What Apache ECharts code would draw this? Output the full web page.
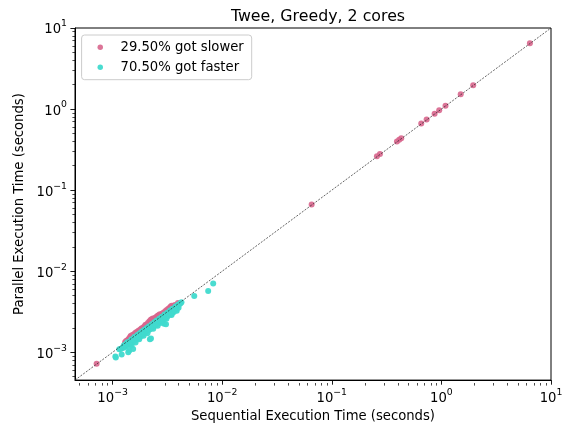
<!DOCTYPE html>
<html>
<head>
<meta charset="utf-8">
<script src="https://cdn.jsdelivr.net/npm/echarts@6/dist/echarts.min.js"></script>
<style>
  html, body { margin: 0; padding: 0; background: #ffffff; }
  #chart { width: 569px; height: 428px; }
</style>
</head>
<body>
<div id="chart"></div>
<script>
// Labels
const titleText = 'Twee, Greedy, 2 cores';
const xName = 'Sequential Execution Time (seconds)';
const yName = 'Parallel Execution Time (seconds)';
const slowerLabel = '29.50% got slower';
const fasterLabel = '70.50% got faster';

// Axis range (same on both axes) and tick positions
const axisMin = 4.54e-4;
const axisMax = 10;
const majorTicks = [0.001, 0.01, 0.1, 1, 10];
const minorDecades = [0.0001, 0.001, 0.01, 0.1, 1];
const minorSteps = [2, 3, 4, 5, 6, 7, 8, 9];

// Benchmarks that ran slower in parallel: [sequential s, parallel s]
const slower = [
  [6.42, 6.50], [1.95, 1.97], [1.50, 1.52], [1.09, 1.10], [0.955, 0.965],
  [0.867, 0.876], [0.733, 0.742], [0.655, 0.662], [0.430, 0.436], [0.412, 0.417],
  [0.393, 0.398], [0.275, 0.279], [0.258, 0.261], [0.0655, 0.0664], [7.15e-4, 7.2e-4],
  [1.30e-3, 1.33e-3], [1.33e-3, 1.38e-3], [1.36e-3, 1.40e-3], [1.39e-3, 1.44e-3],
  [1.42e-3, 1.49e-3], [1.45e-3, 1.55e-3], [1.48e-3, 1.56e-3], [1.52e-3, 1.63e-3],
  [1.55e-3, 1.64e-3], [1.59e-3, 1.70e-3], [1.63e-3, 1.76e-3], [1.67e-3, 1.78e-3],
  [1.72e-3, 1.84e-3], [1.78e-3, 1.90e-3], [1.83e-3, 1.96e-3], [1.88e-3, 1.99e-3],
  [1.93e-3, 2.05e-3], [1.98e-3, 2.12e-3], [2.04e-3, 2.16e-3], [2.10e-3, 2.30e-3],
  [2.16e-3, 2.40e-3], [2.22e-3, 2.50e-3], [2.27e-3, 2.56e-3], [2.33e-3, 2.62e-3],
  [2.38e-3, 2.60e-3], [2.45e-3, 2.66e-3], [2.52e-3, 2.74e-3], [2.58e-3, 2.82e-3],
  [2.63e-3, 2.86e-3], [2.70e-3, 2.94e-3], [2.76e-3, 2.90e-3], [2.84e-3, 3.00e-3],
  [2.92e-3, 3.08e-3], [3.02e-3, 3.20e-3], [3.12e-3, 3.32e-3], [3.22e-3, 3.45e-3],
  [3.33e-3, 3.56e-3], [3.40e-3, 3.68e-3], [3.46e-3, 3.74e-3], [3.55e-3, 3.70e-3],
  [3.70e-3, 3.82e-3], [3.95e-3, 4.05e-3], [1.47e-3, 1.60e-3], [2.00e-3, 2.18e-3]
];

// Benchmarks that ran faster in parallel: [sequential s, parallel s]
const faster = [
  [1.06e-3, 0.89e-3], [1.07e-3, 0.86e-3], [1.21e-3, 0.94e-3], [1.39e-3, 1.00e-3],
  [1.42e-3, 1.05e-3], [1.54e-3, 1.10e-3], [1.49e-3, 1.21e-3], [1.44e-3, 1.24e-3],
  [2.19e-3, 1.45e-3], [2.24e-3, 1.48e-3], [2.95e-3, 2.25e-3], [3.07e-3, 2.22e-3],
  [5.56e-3, 4.94e-3], [7.45e-3, 5.69e-3], [8.28e-3, 7.05e-3],
  [1.25e-3, 1.17e-3], [1.28e-3, 1.15e-3], [1.30e-3, 1.22e-3], [1.33e-3, 1.20e-3],
  [1.35e-3, 1.27e-3], [1.38e-3, 1.25e-3], [1.40e-3, 1.32e-3], [1.42e-3, 1.28e-3],
  [1.45e-3, 1.36e-3], [1.47e-3, 1.30e-3], [1.50e-3, 1.40e-3], [1.52e-3, 1.35e-3],
  [1.55e-3, 1.44e-3], [1.57e-3, 1.38e-3], [1.60e-3, 1.50e-3], [1.62e-3, 1.42e-3],
  [1.65e-3, 1.55e-3], [1.67e-3, 1.47e-3], [1.70e-3, 1.58e-3], [1.72e-3, 1.50e-3],
  [1.75e-3, 1.62e-3], [1.78e-3, 1.55e-3], [1.80e-3, 1.70e-3], [1.83e-3, 1.60e-3],
  [1.86e-3, 1.75e-3], [1.88e-3, 1.66e-3], [1.90e-3, 1.80e-3], [1.93e-3, 1.70e-3],
  [1.96e-3, 1.85e-3], [1.98e-3, 1.74e-3], [2.00e-3, 1.90e-3], [2.03e-3, 1.80e-3],
  [2.06e-3, 1.95e-3], [2.10e-3, 1.85e-3], [2.13e-3, 2.00e-3], [2.16e-3, 1.90e-3],
  [2.20e-3, 2.05e-3], [2.23e-3, 1.95e-3], [2.26e-3, 2.12e-3], [2.30e-3, 2.02e-3],
  [2.34e-3, 2.20e-3], [2.38e-3, 2.08e-3], [2.42e-3, 2.28e-3], [2.46e-3, 2.15e-3],
  [2.50e-3, 2.35e-3], [2.55e-3, 2.22e-3], [2.60e-3, 2.45e-3], [2.65e-3, 2.30e-3],
  [2.70e-3, 2.55e-3], [2.75e-3, 2.40e-3], [2.80e-3, 2.65e-3], [2.85e-3, 2.50e-3],
  [2.90e-3, 2.72e-3], [2.95e-3, 2.58e-3], [3.00e-3, 2.82e-3], [3.06e-3, 2.68e-3],
  [3.12e-3, 2.95e-3], [3.18e-3, 2.78e-3], [3.25e-3, 3.05e-3], [3.32e-3, 2.90e-3],
  [3.40e-3, 3.20e-3], [3.48e-3, 3.00e-3], [3.55e-3, 3.35e-3], [3.62e-3, 3.15e-3],
  [3.70e-3, 3.50e-3], [3.80e-3, 3.35e-3], [3.90e-3, 3.70e-3], [4.00e-3, 3.55e-3],
  [4.10e-3, 3.95e-3], [4.18e-3, 4.05e-3], [4.25e-3, 4.15e-3],
  [1.36e-3, 1.33e-3], [1.48e-3, 1.44e-3], [1.58e-3, 1.54e-3], [1.68e-3, 1.64e-3],
  [1.77e-3, 1.72e-3], [1.85e-3, 1.81e-3], [1.95e-3, 1.90e-3], [2.05e-3, 2.00e-3],
  [2.15e-3, 2.10e-3], [2.28e-3, 2.22e-3], [2.40e-3, 2.34e-3], [2.52e-3, 2.46e-3],
  [2.68e-3, 2.62e-3], [2.82e-3, 2.75e-3], [2.98e-3, 2.92e-3], [3.15e-3, 3.08e-3],
  [3.35e-3, 3.28e-3], [3.52e-3, 3.45e-3], [3.75e-3, 3.66e-3], [3.95e-3, 3.86e-3],
  [1.62e-3, 1.32e-3], [1.75e-3, 1.45e-3], [1.92e-3, 1.60e-3], [2.08e-3, 1.72e-3],
  [2.35e-3, 1.95e-3], [2.58e-3, 2.12e-3], [2.78e-3, 2.32e-3], [3.10e-3, 2.60e-3],
  [3.45e-3, 2.88e-3], [3.85e-3, 3.25e-3],
  [1.32e-3, 1.26e-3], [1.43e-3, 1.34e-3], [1.53e-3, 1.45e-3], [1.63e-3, 1.52e-3],
  [1.73e-3, 1.60e-3], [1.84e-3, 1.70e-3], [1.94e-3, 1.78e-3], [2.02e-3, 1.86e-3],
  [2.11e-3, 1.96e-3], [2.21e-3, 2.00e-3], [2.31e-3, 2.14e-3], [2.44e-3, 2.22e-3],
  [2.56e-3, 2.36e-3], [2.66e-3, 2.45e-3], [2.78e-3, 2.58e-3], [2.88e-3, 2.64e-3],
  [3.03e-3, 2.76e-3], [3.20e-3, 2.98e-3], [3.38e-3, 3.10e-3], [3.58e-3, 3.30e-3],
  [3.65e-3, 3.42e-3], [1.27e-3, 1.22e-3], [1.22e-3, 1.12e-3], [1.18e-3, 1.10e-3],
  [1.15e-3, 1.09e-3]
];

// Reference line: parallel time equals sequential time
const diagonal = [[axisMin, axisMin], [axisMax, axisMax]];

const minorTicks = [];
minorDecades.forEach(d => minorSteps.forEach(s => {
  const v = +(d * s).toPrecision(3);
  if (v > axisMin && v < axisMax) minorTicks.push(v);
}));

const FONT = 'DejaVu Sans';
const FS = 13.2;
const pink = '#d8668d';
const teal = '#40dacd';

// Plot box in pixels
const G = { left: 75, right: 18, top: 28, bottom: 45 };
const plotW = 569 - G.left - G.right;
const plotH = 428 - G.top - G.bottom;

function powLabel(v) {
  const e = Math.round(Math.log10(v));
  return '{b|10}{s|' + String(e).replace('-', '\u2212') + '}';
}
const richExp = {
  b: { fontFamily: FONT, fontSize: FS, color: '#000', verticalAlign: 'bottom', lineHeight: 17 },
  s: { fontFamily: FONT, fontSize: 9.3, color: '#000', verticalAlign: 'top', lineHeight: 10 }
};

function mainAxis(extra) {
  return Object.assign({
    type: 'log',
    logBase: 10,
    min: axisMin,
    max: axisMax,
    axisLine: { show: true, onZero: false, lineStyle: { color: '#000', width: 1 } },
    axisTick: { show: true, inside: false, length: 4.6, customValues: majorTicks,
                lineStyle: { color: '#000', width: 0.9 } },
    axisLabel: { show: true, customValues: majorTicks, margin: 8, formatter: powLabel, rich: richExp },
    minorTick: { show: false },
    splitLine: { show: false },
    nameTextStyle: { fontFamily: FONT, fontSize: FS, color: '#000' }
  }, extra);
}
// Second axis pair carrying the 2..9 sub-decade ticks; moved onto the
// bottom / left edges with a negative offset and ticks pointing outward.
function minorAxis(extra) {
  return Object.assign({
    type: 'log',
    logBase: 10,
    min: axisMin,
    max: axisMax,
    axisLine: { show: false, onZero: false },
    axisTick: { show: true, inside: true, length: 2.6, customValues: minorTicks,
                lineStyle: { color: '#000', width: 0.7 } },
    axisLabel: { show: false },
    splitLine: { show: false }
  }, extra);
}

const chart = echarts.init(document.getElementById('chart'), null, { renderer: 'canvas' });
chart.setOption({
  backgroundColor: '#ffffff',
  animation: false,
  title: {
    text: titleText,
    left: 313, top: 4, textAlign: 'center',
    textStyle: { fontFamily: FONT, fontSize: 15.8, fontWeight: 'normal', color: '#000' }
  },
  legend: {
    left: 81.6, top: 35,
    orient: 'vertical',
    padding: [4.6, 8, 4.6, 15.9],
    itemGap: 4.5,
    itemWidth: 30.5, itemHeight: 5.5,
    icon: 'circle',
    backgroundColor: 'rgba(255,255,255,0.8)',
    borderColor: '#cccccc', borderWidth: 1, borderRadius: 3,
    textStyle: { fontFamily: FONT, fontSize: FS, color: '#000', lineHeight: 15.5 },
    data: [slowerLabel, fasterLabel]
  },
  grid: {
    left: G.left, right: G.right, top: G.top, bottom: G.bottom,
    show: true, borderColor: '#000', borderWidth: 1, backgroundColor: 'transparent'
  },
  xAxis: [
    mainAxis({ position: 'bottom', name: xName, nameLocation: 'middle', nameGap: 14 }),
    minorAxis({ position: 'top', offset: -plotH })
  ],
  yAxis: [
    mainAxis({ position: 'left', name: yName, nameLocation: 'middle', nameGap: 41 }),
    minorAxis({ position: 'right', offset: -plotW })
  ],
  series: [
    {
      name: slowerLabel, type: 'scatter', xAxisIndex: 0, yAxisIndex: 0,
      symbol: 'circle', symbolSize: 6,
      itemStyle: { color: pink, opacity: 0.9 },
      data: slower, z: 2
    },
    {
      name: fasterLabel, type: 'scatter', xAxisIndex: 0, yAxisIndex: 0,
      symbol: 'circle', symbolSize: 6,
      itemStyle: { color: teal, opacity: 0.95 },
      data: faster, z: 3
    },
    {
      name: 'y = x', type: 'line', xAxisIndex: 0, yAxisIndex: 0,
      data: diagonal, symbol: 'none', silent: true,
      lineStyle: { color: '#222222', width: 0.7, type: [2, 1.4] },
      z: 4
    },
    {
      // keeps the sub-decade tick axes bound to the same data range
      name: 'minor-scale', type: 'scatter', xAxisIndex: 1, yAxisIndex: 1,
      data: diagonal, symbolSize: 0, silent: true, itemStyle: { opacity: 0 }
    }
  ]
});
</script>
</body>
</html>
